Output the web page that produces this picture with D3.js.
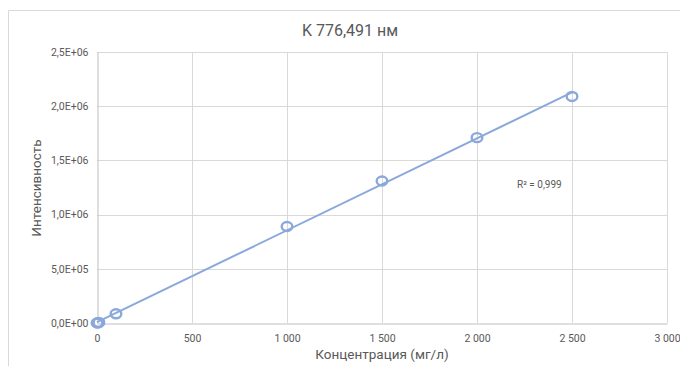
<!DOCTYPE html>
<html><head><meta charset="utf-8">
<script src="https://cdn.jsdelivr.net/npm/d3@7"></script>
<style>body{margin:0;background:#fff;} svg{display:block;font-family:Roboto, "Liberation Sans", sans-serif;}</style>
</head><body>
<svg id="c" width="680" height="366"></svg>
<script>
const concentrations = [0, 5, 10, 100, 1000, 1500, 2000, 2500];
const intensities = [0, 2000, 5000, 85000, 890000, 1310000, 1710000, 2090000];
const xTicks = [0, 500, 1000, 1500, 2000, 2500, 3000];
const yTicks = [0, 500000, 1000000, 1500000, 2000000, 2500000];
const titleText = "K 776,491 нм";
const xTitle = "Концентрация (мг/л)";
const yTitle = "Интенсивность";
const r2Text = "R² = 0,999";

const svg = d3.select("#c");
const col = "#8aa8dc";
const txt = "#595959";
const x = d3.scaleLinear().domain([0, 3000]).range([97, 667]);
const y = d3.scaleLinear().domain([0, 2500000]).range([323, 52]);

// chart border
svg.append("path").attr("d", "M8.5,366 V10.5 H680").attr("fill","none").attr("stroke","#d9d9d9").attr("stroke-width",1);

svg.append("text").attr("x", 350).attr("y", 36).attr("text-anchor","middle")
  .attr("font-size", 16).attr("fill", txt).text(titleText);

// grid
svg.append("g").selectAll("line").data(xTicks.slice(1)).join("line")
  .attr("x1", d=>Math.round(x(d))+0.5).attr("x2", d=>Math.round(x(d))+0.5)
  .attr("y1", y(2500000)).attr("y2", y(0)).attr("stroke","#d9d9d9");
svg.append("g").selectAll("line").data(yTicks.slice(1)).join("line")
  .attr("x1", x(0)).attr("x2", x(3000))
  .attr("y1", d=>Math.round(y(d))+0.5).attr("y2", d=>Math.round(y(d))+0.5).attr("stroke","#d9d9d9");

// axes
const xAxis = d3.axisBottom(x).tickValues(xTicks).tickSize(0).tickPadding(11).tickFormat(d => d3.format(",")(d).replace(/,/g, " "));
const gx = svg.append("g").attr("transform", `translate(0,${Math.round(y(0))+0.5})`).call(xAxis);
gx.select(".domain").attr("stroke", "#bfbfbf");
gx.selectAll("text").attr("fill", txt).attr("font-size", 10.5).attr("font-family","Roboto, sans-serif");

const fmtY = d => {
  if (d === 0) return "0,0E+00";
  const e = Math.floor(Math.log10(d));
  const m = d / Math.pow(10, e);
  return m.toFixed(1).replace(".", ",") + "E+" + String(e).padStart(2, "0");
};
const yAxis = d3.axisLeft(y).tickValues(yTicks).tickSize(0).tickPadding(9).tickFormat(fmtY);
const gy = svg.append("g").attr("transform", `translate(${Math.round(x(0))+0.5},0)`).call(yAxis);
gy.select(".domain").attr("stroke", "#bfbfbf");
gy.selectAll("text").attr("fill", txt).attr("font-size", 10.5).attr("font-family","Roboto, sans-serif");

// axis titles
svg.append("text").attr("x", 382).attr("y", 359).attr("text-anchor","middle")
  .attr("font-size", 13.5).attr("fill", txt).text(xTitle);
svg.append("text").attr("transform", "translate(41,188) rotate(-90)").attr("text-anchor","middle")
  .attr("font-size", 13.5).attr("fill", txt).text(yTitle);

// linear trendline (least squares)
const n = concentrations.length;
const mx = d3.mean(concentrations), my = d3.mean(intensities);
let sxy = 0, sxx = 0;
for (let i = 0; i < n; i++) { sxy += (concentrations[i]-mx)*(intensities[i]-my); sxx += (concentrations[i]-mx)**2; }
const slope = sxy / sxx, icpt = my - slope * mx;
const x0 = d3.min(concentrations), x1 = d3.max(concentrations);
svg.append("line").attr("x1", x(x0)).attr("y1", y(slope*x0+icpt)).attr("x2", x(x1)).attr("y2", y(slope*x1+icpt))
  .attr("stroke", col).attr("stroke-width", 2);

// markers
svg.append("g").selectAll("ellipse").data(concentrations).join("ellipse")
  .attr("cx", d=>x(d)).attr("cy", (d,i)=>y(intensities[i]))
  .attr("rx", 5.3).attr("ry", 4.5).attr("fill","none").attr("stroke", col).attr("stroke-width", 2.4);

svg.append("text").attr("x", 517).attr("y", 188).attr("font-size", 10).attr("fill", txt).text(r2Text);
</script>
</body></html>
